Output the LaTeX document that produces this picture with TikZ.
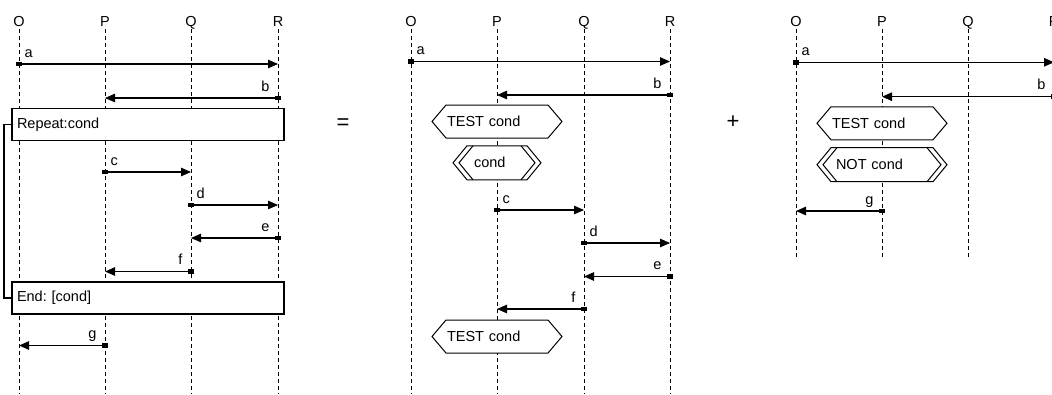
\documentclass[tikz,border=0pt]{standalone}
\usepackage{fontspec}
\setmainfont{Liberation Sans}
\usetikzlibrary{arrows.meta,positioning,calc}
\frenchspacing

\begin{document}
\begin{tikzpicture}[
    x=1pt, y=-1pt,
    font=\fontsize{14.5}{17}\selectfont,
    head/.style={anchor=base, inner sep=3pt, text depth=0pt},
    life/.style={dash pattern=on 4pt off 3pt, line width=0.9pt},
    msg/.style={line width=1.1pt, {Rectangle[length=6pt,width=4.5pt]}-{Triangle[length=10pt,width=8.5pt]}, shorten <=-3pt},
    rlbl/.style={anchor=base west, inner sep=0pt, xshift=5pt, yshift=7pt},
    llbl/.style={anchor=base east, inner sep=0pt, xshift=-8pt, yshift=7pt},
    frame/.style={draw, fill=white, line width=1.2pt, minimum height=32pt, text width=262pt, align=left, inner xsep=5pt, outer sep=0pt},
    hexbody/.style={fill=white, minimum height=33pt, inner xsep=1pt, text width=100pt, align=left, outer sep=0pt},
    hexline/.style={line width=1pt},
    sign/.style={font=\fontsize{22}{24}\selectfont}
  ]
    \useasboundingbox (0,0) rectangle (1052,394);

    % Lifeline heads
    \node[head] (O1) at (19,26) {O};
    \node[head] (P1) at (105,26) {P};
    \node[head] (Q1) at (191,26) {Q};
    \node[head] (R1) at (278,26) {R};

    \node[head] (O2) at (411,26) {O};
    \node[head] (P2) at (497,26) {P};
    \node[head] (Q2) at (584,26) {Q};
    \node[head] (R2) at (670,26) {R};

    \node[head] (O3) at (796,26) {O};
    \node[head] (P3) at (882,26) {P};
    \node[head] (Q3) at (968,26) {Q};
    \node[head] (R3) at (1054,26) {R};

    \coordinate (bot1) at (0,394);
    \coordinate (bot3) at (0,258);

    % Lifelines
    \foreach \n in {O1,P1,Q1,R1,O2,P2,Q2,R2}
      \draw[life] (\n.south) -- (\n.south |- bot1);
    \foreach \n in {O3,P3,Q3,R3}
      \draw[life] (\n.south) -- (\n.south |- bot3);

    % Loop frames (left)
    \node[frame] (rep) at (148,124.5) {Repeat:cond};
    \node[frame] (endb) at (148,298) {End: [cond]};
    \draw[line width=1.2pt] (rep.west) -- ++(-8,0) |- (endb.west);

    % Condition boxes
    \node[hexbody] (tst1) at (497,121.5) {TEST cond};
    \node[hexbody, text width=46pt, inner xsep=7pt, minimum height=34pt] (cnd) at (497,162.8) {cond};
    \node[hexbody] (tst2) at (497,336.5) {TEST cond};
    \node[hexbody] (tst3) at (882,123.3) {TEST cond};
    \node[hexbody, text width=92pt, inner xsep=5pt, minimum height=34pt] (nct) at (882,164.7) {NOT cond};

    \foreach \n in {tst1,cnd,tst2,tst3,nct}
      \draw[hexline] (\n.north west) -- (\n.north east) -- ($(\n.east)+(14,0)$) -- (\n.south east)
        -- (\n.south west) -- ($(\n.west)+(-14,0)$) -- cycle;
    \foreach \n in {cnd,nct} {
      \draw[hexline] ($(\n.north west)+(6,0)$) -- ($(\n.west)+(-8,0)$) -- ($(\n.south west)+(6,0)$);
      \draw[hexline] ($(\n.north east)+(-6,0)$) -- ($(\n.east)+(8,0)$) -- ($(\n.south east)+(-6,0)$);
    }

    % Messages, left diagram
    \draw[msg] (O1 |- 0,64) node[rlbl] {a} -- (R1 |- 0,64);
    \draw[msg] (R1 |- 0,98) node[llbl] {b} -- (P1 |- 0,98);
    \draw[msg] (P1 |- 0,172) node[rlbl] {c} -- (Q1 |- 0,172);
    \draw[msg] (Q1 |- 0,205) node[rlbl] {d} -- (R1 |- 0,205);
    \draw[msg] (R1 |- 0,238) node[llbl] {e} -- (Q1 |- 0,238);
    \draw[msg] (Q1 |- 0,271.5) node[llbl] {f} -- (P1 |- 0,271.5);
    \draw[msg] (P1 |- 0,345.5) node[llbl] {g} -- (O1 |- 0,345.5);

    % Messages, middle diagram
    \draw[msg] (O2 |- 0,61.5) node[rlbl] {a} -- (R2 |- 0,61.5);
    \draw[msg] (R2 |- 0,95) node[llbl] {b} -- (P2 |- 0,95);
    \draw[msg] (P2 |- 0,210) node[rlbl] {c} -- (Q2 |- 0,210);
    \draw[msg] (Q2 |- 0,243) node[rlbl] {d} -- (R2 |- 0,243);
    \draw[msg] (R2 |- 0,276.5) node[llbl] {e} -- (Q2 |- 0,276.5);
    \draw[msg] (Q2 |- 0,309) node[llbl] {f} -- (P2 |- 0,309);

    % Messages, right diagram
    \draw[msg] (O3 |- 0,62.3) node[rlbl] {a} -- (R3 |- 0,62.3);
    \draw[msg] (R3 |- 0,96.7) node[llbl] {b} -- (P3 |- 0,96.7);
    \draw[msg] (P3 |- 0,211) node[llbl] {g} -- (O3 |- 0,211);

    % Operators
    \node[sign] (eq) at (343,124.5) {=};
    \node[sign] (plus) at (733,122) {+};
  \end{tikzpicture}
\end{document}
